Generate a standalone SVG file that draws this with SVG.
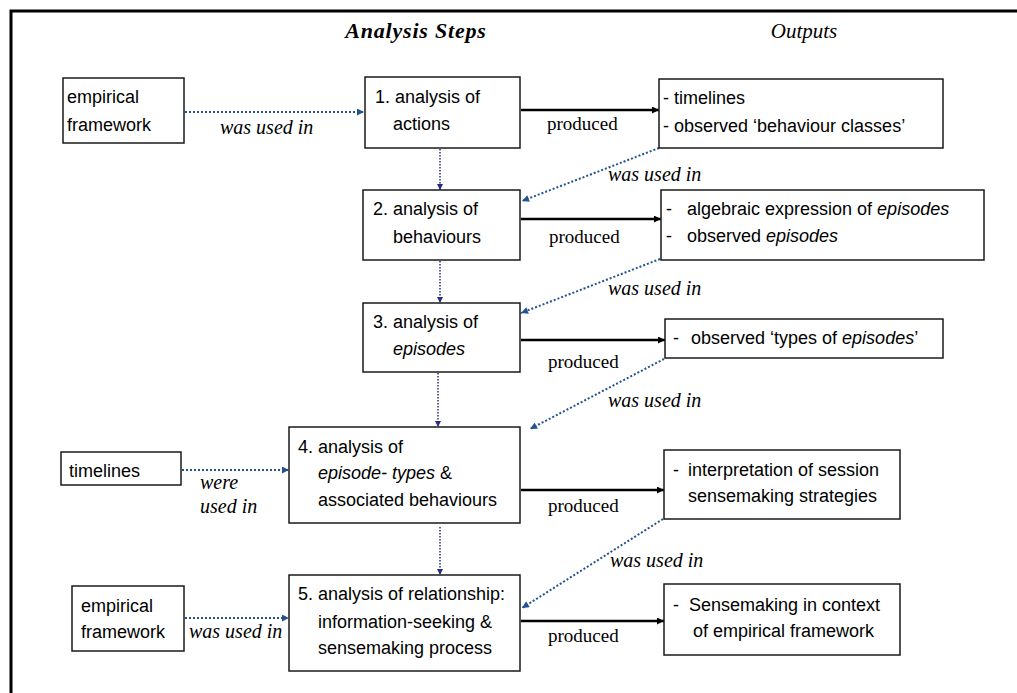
<svg xmlns="http://www.w3.org/2000/svg" width="1017" height="693" viewBox="0 0 1017 693">
  <style>
    .box { fill: #fff; stroke: #1a1a1a; stroke-width: 1.5; }
    .t { font-family: "Liberation Sans", Arial, sans-serif; font-size: 18px; fill: #000; }
    .i { font-style: italic; }
    .head { font-family: "Liberation Serif", "Times New Roman", serif; font-style: italic; fill: #000; }
    .prod { font-family: "Liberation Serif", "Times New Roman", serif; font-size: 19px; fill: #000; }
    .used { font-family: "Liberation Serif", "Times New Roman", serif; font-style: italic; font-size: 20px; fill: #000; }
    .solid { stroke: #000; stroke-width: 2.5; fill: none; }
    .dot { stroke: #24528f; stroke-width: 2; stroke-dasharray: 2 2; fill: none; }
    .vdot { stroke: #2a2a80; stroke-width: 1.5; stroke-dasharray: 1.5 1.5; fill: none; }
  </style>
  <defs>
    <marker id="ahSolid" viewBox="0 0 10 10" refX="10" refY="5" markerWidth="9" markerHeight="7" markerUnits="userSpaceOnUse" orient="auto">
      <path d="M0,0 L10,5 L0,10 z" fill="#000"/>
    </marker>
    <marker id="ahBlue" viewBox="0 0 10 10" refX="10" refY="5" markerWidth="8" markerHeight="7" markerUnits="userSpaceOnUse" orient="auto">
      <path d="M0,0 L10,5 L0,10 z" fill="#24528f"/>
    </marker>
    <marker id="ahNavy" viewBox="0 0 10 10" refX="10" refY="5" markerWidth="6" markerHeight="6" markerUnits="userSpaceOnUse" orient="auto">
      <path d="M0,0 L10,5 L0,10 z" fill="#2a2a80"/>
    </marker>
  </defs>

  <rect x="0" y="0" width="1017" height="693" fill="#fff"/>
  <!-- frame (top and left edges) -->
  <path d="M11,693 V11 H1017" fill="none" stroke="#000" stroke-width="3"/>

  <!-- column headings -->
  <text class="head" x="416" y="38" font-size="22" font-weight="bold" letter-spacing="0.8" text-anchor="middle">Analysis Steps</text>
  <text class="head" x="804" y="38" font-size="21" text-anchor="middle">Outputs</text>

  <!-- connectors -->
  <g id="connectors">
    <!-- inputs -->
    <line class="dot" x1="185" y1="112" x2="364" y2="112" marker-end="url(#ahBlue)"/>
    <line class="dot" x1="182" y1="470" x2="289" y2="470" marker-end="url(#ahBlue)"/>
    <line class="dot" x1="185" y1="618" x2="289" y2="618" marker-end="url(#ahBlue)"/>
    <!-- step sequence -->
    <line class="vdot" x1="440" y1="149" x2="440" y2="190" marker-end="url(#ahNavy)"/>
    <line class="vdot" x1="440" y1="261" x2="440" y2="303" marker-end="url(#ahNavy)"/>
    <line class="vdot" x1="438" y1="373" x2="438" y2="427" marker-end="url(#ahNavy)"/>
    <line class="vdot" x1="440" y1="527" x2="440" y2="575" marker-end="url(#ahNavy)"/>
    <!-- produced -->
    <line class="solid" x1="521" y1="110" x2="659" y2="110" marker-end="url(#ahSolid)"/>
    <line class="solid" x1="521" y1="219" x2="661" y2="219" marker-end="url(#ahSolid)"/>
    <line class="solid" x1="521" y1="340" x2="665" y2="340" marker-end="url(#ahSolid)"/>
    <line class="solid" x1="521" y1="490" x2="664" y2="490" marker-end="url(#ahSolid)"/>
    <line class="solid" x1="521" y1="621" x2="664" y2="621" marker-end="url(#ahSolid)"/>
    <!-- outputs fed back -->
    <line class="dot" x1="659" y1="148" x2="522" y2="201" marker-end="url(#ahBlue)"/>
    <line class="dot" x1="660" y1="259" x2="521" y2="313" marker-end="url(#ahBlue)"/>
    <line class="dot" x1="664" y1="359" x2="530" y2="429" marker-end="url(#ahBlue)"/>
    <line class="dot" x1="663" y1="519" x2="522" y2="608" marker-end="url(#ahBlue)"/>

    <!-- connector labels -->
    <text class="used" x="220" y="134">was used in</text>
    <text class="used" x="200" y="489">were</text>
    <text class="used" x="200" y="513">used in</text>
    <text class="used" x="189" y="638">was used in</text>
    <text class="used" x="608" y="181">was used in</text>
    <text class="used" x="608" y="295">was used in</text>
    <text class="used" x="608" y="407">was used in</text>
    <text class="used" x="610" y="567">was used in</text>
    <text class="prod" x="547" y="130">produced</text>
    <text class="prod" x="549" y="243">produced</text>
    <text class="prod" x="548" y="368">produced</text>
    <text class="prod" x="548" y="512">produced</text>
    <text class="prod" x="548" y="642">produced</text>
  </g>

  <!-- inputs -->
  <g id="empirical-framework-1">
    <rect class="box" x="63" y="78" width="121" height="65"/>
    <text class="t" x="67" y="103">empirical</text>
    <text class="t" x="67" y="131">framework</text>
  </g>
  <g id="timelines-input">
    <rect class="box" x="61" y="452" width="120" height="33"/>
    <text class="t" x="69" y="477">timelines</text>
  </g>
  <g id="empirical-framework-2">
    <rect class="box" x="72" y="586" width="112" height="65"/>
    <text class="t" x="81" y="612">empirical</text>
    <text class="t" x="81" y="638">framework</text>
  </g>

  <!-- analysis steps -->
  <g id="step-1">
    <rect class="box" x="365" y="77" width="155" height="71"/>
    <text class="t" x="375" y="103">1. analysis of</text>
    <text class="t" x="393" y="130">actions</text>
  </g>
  <g id="step-2">
    <rect class="box" x="363" y="190" width="157" height="70"/>
    <text class="t" x="373" y="215">2. analysis of</text>
    <text class="t" x="393" y="243">behaviours</text>
  </g>
  <g id="step-3">
    <rect class="box" x="363" y="303" width="157" height="69"/>
    <text class="t" x="373" y="328">3. analysis of</text>
    <text class="t i" x="393" y="355">episodes</text>
  </g>
  <g id="step-4">
    <rect class="box" x="289" y="427" width="231" height="96"/>
    <text class="t" x="298" y="453">4. analysis of</text>
    <text class="t" x="318" y="479"><tspan class="i">episode- types</tspan> &amp;</text>
    <text class="t" x="318" y="506">associated behaviours</text>
  </g>
  <g id="step-5">
    <rect class="box" x="289" y="575" width="231" height="96"/>
    <text class="t" x="298" y="600">5. analysis of relationship:</text>
    <text class="t" x="318" y="628">information-seeking &amp;</text>
    <text class="t" x="318" y="654">sensemaking process</text>
  </g>

  <!-- outputs -->
  <g id="output-1">
    <rect class="box" x="659" y="79" width="284" height="69"/>
    <text class="t" x="663" y="104">-</text>
    <text class="t" x="674" y="104">timelines</text>
    <text class="t" x="663" y="132">-</text>
    <text class="t" x="674" y="132">observed ‘behaviour classes’</text>
  </g>
  <g id="output-2">
    <rect class="box" x="661" y="190" width="323" height="70"/>
    <text class="t" x="666" y="215">-</text>
    <text class="t" x="687" y="215">algebraic expression of <tspan class="i">episodes</tspan></text>
    <text class="t" x="666" y="242">-</text>
    <text class="t" x="687" y="242">observed <tspan class="i">episodes</tspan></text>
  </g>
  <g id="output-3">
    <rect class="box" x="665" y="319" width="278" height="39"/>
    <text class="t" x="673" y="344">-</text>
    <text class="t" x="691" y="344">observed ‘types of <tspan class="i">episodes</tspan>’</text>
  </g>
  <g id="output-4">
    <rect class="box" x="664" y="450" width="236" height="69"/>
    <text class="t" x="673" y="476">-</text>
    <text class="t" x="688" y="476">interpretation of session</text>
    <text class="t" x="688" y="502">sensemaking strategies</text>
  </g>
  <g id="output-5">
    <rect class="box" x="664" y="584" width="236" height="71"/>
    <text class="t" x="673" y="611">-</text>
    <text class="t" x="689" y="611">Sensemaking in context</text>
    <text class="t" x="693" y="637">of empirical framework</text>
  </g>
</svg>
